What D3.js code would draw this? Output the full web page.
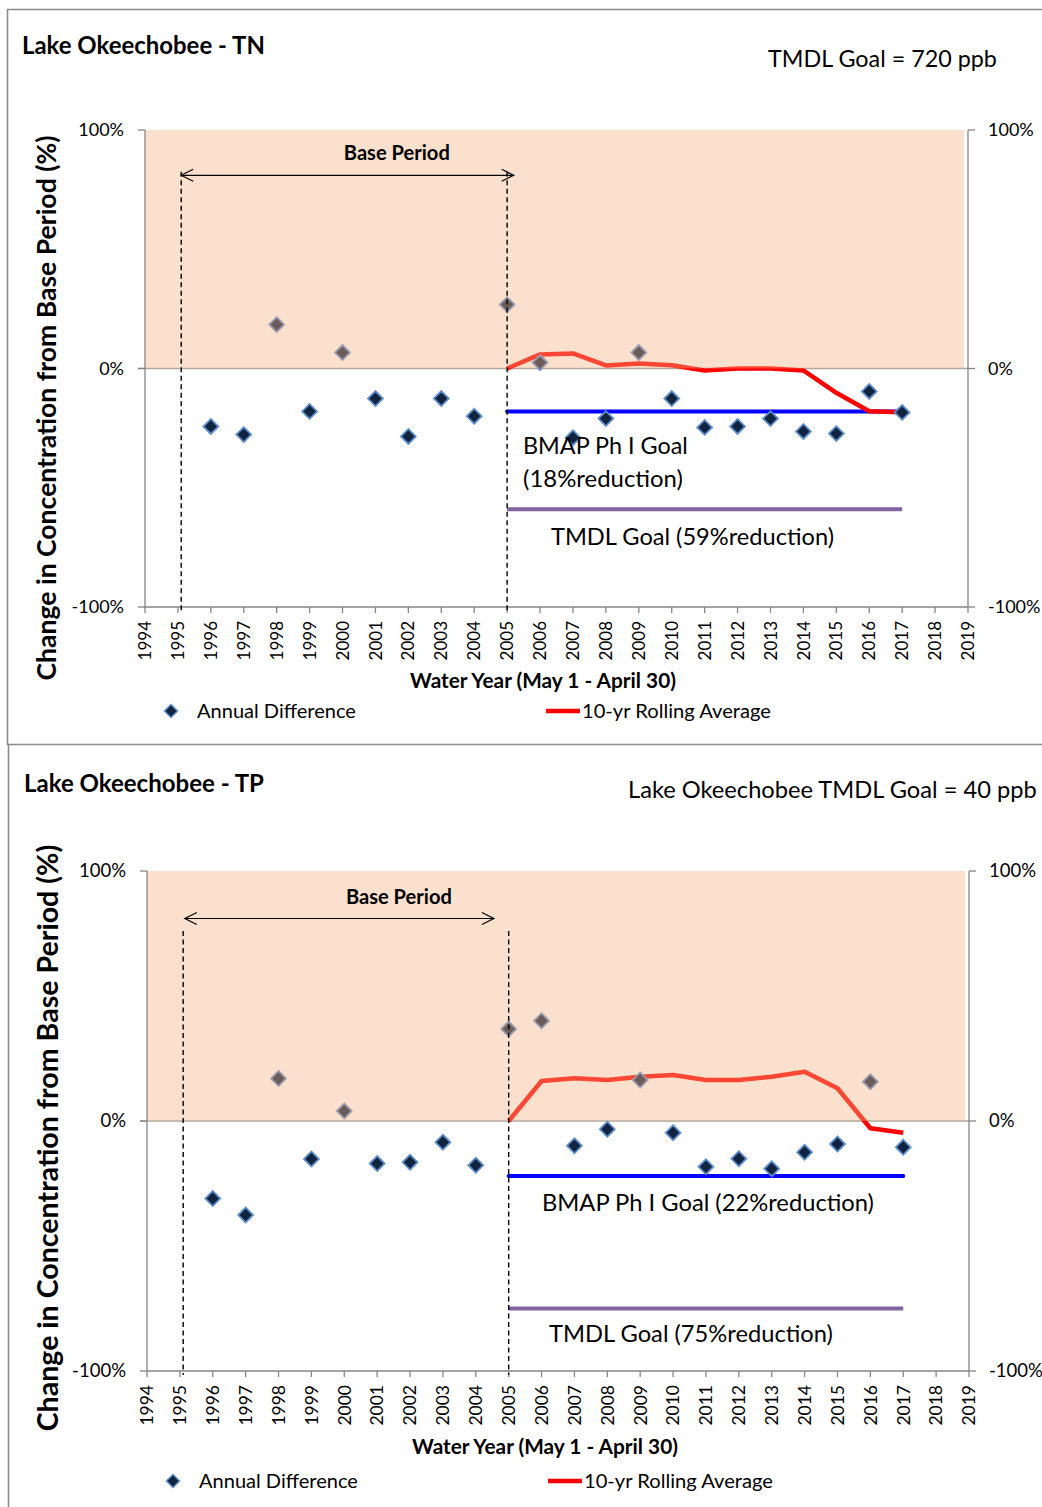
<!DOCTYPE html>
<html><head><meta charset="utf-8">
<script src="https://cdn.jsdelivr.net/npm/d3@7"></script>
<style>body{margin:0;background:#fff} svg{display:block} text{font-family:Lato, "Open Sans", sans-serif; fill:#000}</style>
</head><body><svg id="c" width="1042" height="1507"></svg>
<script>
// ---------- DATA ----------
const yearTicks = [1994,1995,1996,1997,1998,1999,2000,2001,2002,2003,2004,2005,2006,2007,2008,2009,2010,2011,2012,2013,2014,2015,2016,2017,2018,2019];
const yTickValues = [-100, 0, 100];
const yTickLabels = ["-100%", "0%", "100%"];
const annualYears = [1996,1997,1998,1999,2000,2001,2002,2003,2004,2005,2006,2007,2008,2009,2010,2011,2012,2013,2014,2015,2016,2017];
const rollingYears = [2005,2006,2007,2008,2009,2010,2011,2012,2013,2014,2015,2016,2017];
const goalYears = [2005, 2017];
const basePeriod = [1995.1, 2005];

const tnAnnual  = [-24.3,-27.7,18.4,-18,6.7,-12.6,-28.5,-12.6,-20,26.8,2.5,-29,-21,6.7,-12.6,-24.7,-24.3,-21,-26.4,-27.3,-9.6,-18.4];
const tnRolling = [0,5.9,6.3,1.3,2.1,1.4,-0.8,0,0,-0.8,-10.2,-17.9,-18.3];
const tnBmapGoal = -18;
const tnTmdlGoal = -59;

const tpAnnual  = [-31,-37.6,17,-15.2,4,-17,-16.5,-8.5,-17.7,36.8,40.1,-9.9,-3.3,16.4,-4.7,-18.3,-15.1,-19.1,-12.5,-9.2,15.7,-10.5];
const tpRolling = [0,16,17.1,16.4,17.7,18.4,16.4,16.4,17.7,19.7,13.1,-2.9,-4.7];
const tpBmapGoal = -22;
const tpTmdlGoal = -75;

// ---------- DRAWING ----------
const svg = d3.select("#c");

function fit(sel, w) {
  const n = sel.node();
  const fs = parseFloat(sel.attr("font-size"));
  const len = n.getComputedTextLength();
  if (len > 0) sel.attr("font-size", (fs * w / len).toFixed(2));
  return sel;
}

function drawPanel(p) {
  const g = svg.append("g");
  // frame
  g.append("path").attr("d", p.frame).attr("fill", "none").attr("stroke", "#8c8c8c").attr("stroke-width", 1.6);

  const x = d3.scaleLinear().domain([1994, 2019]).range(p.xr);
  const y = d3.scaleLinear().domain([-100, 100]).range(p.yr);

  // zero line (under overlay)
  g.append("line").attr("x1", x(1994) - 7).attr("x2", x(2019)).attr("y1", y(0)).attr("y2", y(0))
    .attr("stroke", "#a6a6a6").attr("stroke-width", 1.3);

  // goal lines
  g.append("line").attr("x1", x(goalYears[0])).attr("x2", x(goalYears[1]))
    .attr("y1", y(p.bmap)).attr("y2", y(p.bmap)).attr("stroke", "#0000ff").attr("stroke-width", 4).attr("stroke-linecap", "round");
  g.append("line").attr("x1", x(goalYears[0])).attr("x2", x(goalYears[1]))
    .attr("y1", y(p.tmdl)).attr("y2", y(p.tmdl)).attr("stroke", "#8064a2").attr("stroke-width", 4);

  // rolling average
  const line = d3.line().x((d, i) => x(rollingYears[i])).y(d => y(d));
  g.append("path").datum(p.rolling).attr("d", line).attr("fill", "none")
    .attr("stroke", "#ff0000").attr("stroke-width", 4.5).attr("stroke-linejoin", "round");

  // annual points
  const diamond = d3.symbol().type(d3.symbolSquare).size(110);
  g.selectAll("path.pt").data(p.annual).join("path").attr("class", "pt")
    .attr("d", diamond)
    .attr("transform", (d, i) => `translate(${x(annualYears[i])},${y(d)}) rotate(45)`)
    .attr("fill", "#10243f").attr("stroke", "#5b8ccc").attr("stroke-width", 1.8);

  // translucent peach overlay (0% to 100%)
  g.append("rect").attr("x", x(1994)).attr("y", y(100)).attr("width", x(2019) - x(1994) - 4)
    .attr("height", y(0) - y(100)).attr("fill", "rgb(244,177,131)").attr("fill-opacity", 0.4);

  // axes
  const ax = "#868686";
  g.append("line").attr("x1", x(1994)).attr("x2", x(1994)).attr("y1", y(100)).attr("y2", y(-100)).attr("stroke", ax).attr("stroke-width", 1.3);
  g.append("line").attr("x1", x(2019)).attr("x2", x(2019)).attr("y1", y(100)).attr("y2", y(-100)).attr("stroke", ax).attr("stroke-width", 1.3);
  g.append("line").attr("x1", x(1994)).attr("x2", x(2019)).attr("y1", y(-100)).attr("y2", y(-100)).attr("stroke", ax).attr("stroke-width", 1.3);
  g.selectAll("line.lt").data(yTickValues).join("line").attr("class", "lt")
    .attr("x1", x(1994) - 7).attr("x2", x(1994)).attr("y1", d => y(d)).attr("y2", d => y(d)).attr("stroke", ax).attr("stroke-width", 1.3);
  g.selectAll("line.rt").data(yTickValues).join("line").attr("class", "rt")
    .attr("x1", x(2019)).attr("x2", x(2019) + 7).attr("y1", d => y(d)).attr("y2", d => y(d)).attr("stroke", ax).attr("stroke-width", 1.3);
  g.selectAll("line.xt").data(yearTicks).join("line").attr("class", "xt")
    .attr("x1", d => x(d)).attr("x2", d => x(d)).attr("y1", y(-100)).attr("y2", y(-100) + 6).attr("stroke", ax).attr("stroke-width", 1.3);

  // y tick labels
  g.selectAll("text.yl").data(yTickValues).join("text").attr("class", "yl")
    .attr("x", x(1994) - 21).attr("y", d => y(d)).attr("dy", "0.35em").attr("text-anchor", "end")
    .attr("font-size", p.tickFs).text((d, i) => yTickLabels[i]);
  g.selectAll("text.yr").data(yTickValues).join("text").attr("class", "yr")
    .attr("x", x(2019) + 20).attr("y", d => y(d)).attr("dy", "0.35em").attr("text-anchor", "start")
    .attr("font-size", p.tickFs).text((d, i) => yTickLabels[i]);

  // x tick labels (rotated)
  g.selectAll("text.xl").data(yearTicks).join("text").attr("class", "xl")
    .attr("transform", d => `translate(${x(d)},${y(-100) + 14}) rotate(-90)`)
    .attr("dy", "0.36em").attr("text-anchor", "end").attr("font-size", p.yearFs).text(d => d);

  // base period dashed lines
  g.selectAll("line.bp").data(basePeriod).join("line").attr("class", "bp")
    .attr("x1", d => x(d)).attr("x2", d => x(d)).attr("y1", y(p.dashTop)).attr("y2", y(-100) + 4)
    .attr("stroke", "#000").attr("stroke-width", 1.4).attr("stroke-dasharray", "5,3.5");

  // base period arrow
  const ay = y(p.arrowY), a0 = x(p.arrowX[0]), a1 = x(p.arrowX[1]);
  g.append("line").attr("x1", a0).attr("x2", a1).attr("y1", ay).attr("y2", ay).attr("stroke", "#000").attr("stroke-width", 1.2);
  g.append("path").attr("d", `M${a0 + 12},${ay - 6}L${a0},${ay}L${a0 + 12},${ay + 6}M${a1 - 12},${ay - 6}L${a1},${ay}L${a1 - 12},${ay + 6}`)
    .attr("fill", "none").attr("stroke", "#000").attr("stroke-width", 1.2);
  fit(g.append("text").attr("x", x(p.baseLabelX)).attr("y", ay - 15).attr("text-anchor", "middle")
    .attr("font-weight", "bold").attr("font-size", 17).text("Base Period"), 106);

  // titles
  fit(g.append("text").attr("x", p.title.x).attr("y", p.title.y).attr("font-weight", "bold").attr("font-size", 20).text(p.title.t), p.title.w);
  fit(g.append("text").attr("x", p.goal.x).attr("y", p.goal.y).attr("font-size", 22).text(p.goal.t), p.goal.w);

  // y axis label
  fit(g.append("text").attr("transform", `translate(${p.ylab.x},${p.ylab.y}) rotate(-90)`).attr("text-anchor", "middle")
    .attr("font-weight", "bold").attr("font-size", 22).text("Change in Concentration from Base Period (%)"), p.ylab.w);

  // annotations
  p.notes.forEach(n => {
    fit(g.append("text").attr("x", n.x).attr("y", n.y).attr("font-size", 22).text(n.t), n.w);
  });

  // x axis title
  fit(g.append("text").attr("x", p.xt.x).attr("y", p.xt.y).attr("text-anchor", "middle")
    .attr("font-weight", "bold").attr("font-size", 18).text("Water Year (May 1 - April 30)"), 266);

  // legend
  const ly = p.leg.y;
  g.append("path").attr("d", d3.symbol().type(d3.symbolSquare).size(85))
    .attr("transform", `translate(${p.leg.dx},${ly}) rotate(45)`).attr("fill", "#10243f").attr("stroke", "#5b8ccc").attr("stroke-width", 1.5);
  fit(g.append("text").attr("x", p.leg.dx + 26).attr("y", ly).attr("dy", "0.35em").attr("font-size", 17).text("Annual Difference"), 159);
  g.append("line").attr("x1", p.leg.lx).attr("x2", p.leg.lx + 34).attr("y1", ly).attr("y2", ly).attr("stroke", "#ff0000").attr("stroke-width", 4.5);
  fit(g.append("text").attr("x", p.leg.lx + 36).attr("y", ly).attr("dy", "0.35em").attr("font-size", 17).text("10-yr Rolling Average"), 189);
}

drawPanel({
  frame: "M1042,9.5H7.5V744.5H1042",
  xr: [145, 968], yr: [607, 130],
  annual: tnAnnual, rolling: tnRolling, bmap: tnBmapGoal, tmdl: tnTmdlGoal,
  tickFs: 18, yearFs: 17,
  dashTop: 82.5, arrowY: 81, arrowX: [1995.1, 2005.2], baseLabelX: 2001.65,
  title: {x: 22, y: 54, t: "Lake Okeechobee - TN", w: 243},
  goal: {x: 768, y: 67, t: "TMDL Goal = 720 ppb", w: 229},
  ylab: {x: 56, y: 408, w: 545},
  notes: [
    {x: 523, y: 454, t: "BMAP Ph I Goal", w: 165},
    {x: 523, y: 487, t: "(18%reduction)", w: 160},
    {x: 551, y: 545, t: "TMDL Goal (59%reduction)", w: 283}
  ],
  xt: {x: 543, y: 688},
  leg: {y: 711, dx: 171, lx: 546}
});

drawPanel({
  frame: "M8.5,1507V744.5",
  xr: [147, 969], yr: [1371, 871],
  annual: tpAnnual, rolling: tpRolling, bmap: tpBmapGoal, tmdl: tpTmdlGoal,
  tickFs: 18.5, yearFs: 17.5,
  dashTop: 76, arrowY: 81, arrowX: [1995.15, 2004.55], baseLabelX: 2001.66,
  title: {x: 24, y: 792, t: "Lake Okeechobee - TP", w: 240},
  goal: {x: 628, y: 798, t: "Lake Okeechobee TMDL Goal = 40 ppb", w: 409},
  ylab: {x: 58, y: 1138, w: 587},
  notes: [
    {x: 542, y: 1211, t: "BMAP Ph I Goal (22%reduction)", w: 332},
    {x: 549, y: 1342, t: "TMDL Goal (75%reduction)", w: 284}
  ],
  xt: {x: 545, y: 1454},
  leg: {y: 1481, dx: 173, lx: 548}
});
</script>
</body></html>
